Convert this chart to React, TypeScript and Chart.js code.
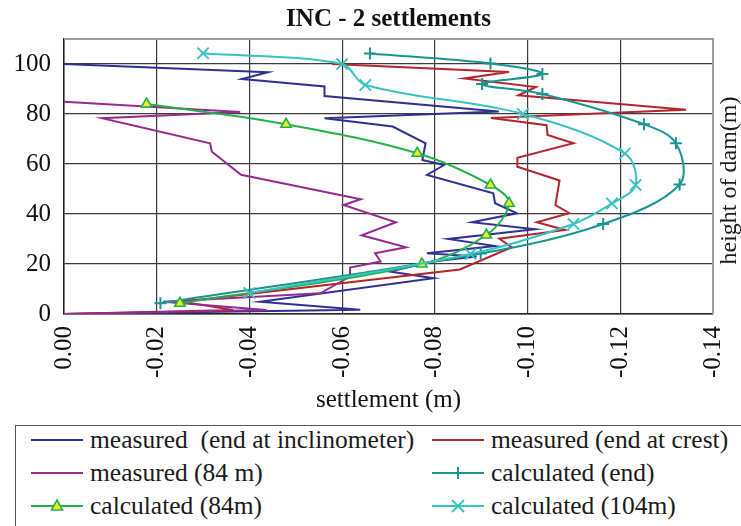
import { useEffect, useRef } from "react";
import { Chart, registerables } from "chart.js";

Chart.register(...registerables);

const SERIF = "'Liberation Serif', 'Times New Roman', serif";

// axis ticks
const xTickValues = [0, -0.02, -0.04, -0.06, -0.08, -0.1, -0.12, -0.14];
const yTickValues = [0, 20, 40, 60, 80, 100];

// measured (end at inclinometer)
const measInclSettlement = [0, -0.044, -0.0384, -0.0562, -0.0562, -0.0938, -0.0562, -0.0709, -0.078, -0.0773, -0.082, -0.0783, -0.0926, -0.093, -0.0977, -0.088, -0.1016, -0.0829, -0.093, -0.0783, -0.089, -0.0795, -0.0703, -0.0797, -0.0423, -0.0639, 0];
const measInclHeight = [100, 96.7, 94, 91, 87.2, 81, 78.3, 75, 68.3, 61.6, 59.6, 55.6, 48.3, 44.3, 40.3, 36.7, 33.9, 30, 27.2, 24.3, 23, 21, 17, 14.3, 4.9, 1.7, 0];

// measured (end at crest)
const measCrestSettlement = [-0.0578, -0.096, -0.0863, -0.1018, -0.098, -0.1342, -0.0921, -0.1041, -0.1043, -0.1099, -0.0978, -0.0978, -0.1069, -0.106, -0.109, -0.102, -0.1081, -0.0939, -0.0966, -0.0854, -0.0255, -0.0365, 0];
const measCrestHeight = [100, 96.8, 94.2, 90.8, 87.5, 81.7, 78.4, 75.5, 71.6, 68.3, 62.5, 58.9, 53.4, 43.6, 40.3, 36.7, 33.6, 30.1, 26.7, 17.8, 4.9, 1.6, 0];

// measured (84 m)
const meas84Settlement = [0, -0.038, -0.0082, -0.0315, -0.0319, -0.0382, -0.064, -0.0603, -0.0716, -0.0642, -0.0738, -0.0671, -0.0683, -0.0617, -0.0617, -0.0553, -0.0214, -0.0437, 0];
const meas84Height = [84.9, 80.8, 78.3, 68.3, 64.9, 55.7, 45.9, 43.6, 36.7, 31.5, 26.7, 24.3, 21, 18.6, 15, 8.3, 4.9, 1.6, 0];

// calculated (end)
const calcEndSettlement = [-0.066, -0.092, -0.1032, -0.0902, -0.1032, -0.1251, -0.132, -0.1328, -0.1163, -0.0899, -0.0208];
const calcEndHeight = [104.2, 100.2, 96, 92, 88, 75.9, 68.3, 51.8, 36, 24.2, 4.3];

// calculated (84m)
const calc84Settlement = [-0.0178, -0.0479, -0.0762, -0.092, -0.096, -0.0911, -0.0772, -0.025];
const calc84Height = [84, 75.9, 64.3, 51.6, 44.3, 31.6, 20, 4.3];

// calculated (104m)
const calc104Settlement = [-0.03, -0.06, -0.065, -0.099, -0.121, -0.1233, -0.1182, -0.1099, -0.0877, -0.04];
const calc104Height = [104.3, 100, 91.6, 80, 64.2, 51.6, 44.2, 36, 24, 8.4];

const COLORS = {
  blue: "#2e3192",
  red: "#b3262e",
  purple: "#942b90",
  teal: "#199490",
  green: "#24b04a",
  cyan: "#38c3c0",
  yellow: "#f0ec28",
};

const CHART_TITLE = "INC - 2 settlements";
const RIGHT_AXIS_TITLE = "height of dam(m)";

const pts = (xs: number[], ys: number[]) => xs.map((x, i) => ({ x, y: ys[i] }));

type LegendEntry = { label: string; color: string; marker: "" | "plus" | "tri" | "x"; col: number; row: number };

const legendEntries: LegendEntry[] = [
  { label: "measured  (end at inclinometer)", color: COLORS.blue, marker: "", col: 0, row: 0 },
  { label: "measured (end at crest)", color: COLORS.red, marker: "", col: 1, row: 0 },
  { label: "measured (84 m)", color: COLORS.purple, marker: "", col: 0, row: 1 },
  { label: "calculated (end)", color: COLORS.teal, marker: "plus", col: 1, row: 1 },
  { label: "calculated (84m)", color: COLORS.green, marker: "tri", col: 0, row: 2 },
  { label: "calculated (104m)", color: COLORS.cyan, marker: "x", col: 1, row: 2 },
];

// plot frame, chart title centred over the plot, and the right-hand axis title
const framePlugin = {
  id: "frame",
  afterDraw(chart: any) {
    const { ctx, chartArea } = chart;
    const { left, right, top, bottom } = chartArea;
    ctx.save();
    ctx.strokeStyle = "#9c9c9c";
    ctx.lineWidth = 2;
    ctx.beginPath();
    ctx.moveTo(left, top);
    ctx.lineTo(right, top);
    ctx.lineTo(right, bottom);
    ctx.stroke();

    ctx.fillStyle = "#111";
    ctx.textAlign = "center";
    ctx.textBaseline = "middle";
    ctx.font = `bold 25px ${SERIF}`;
    ctx.fillText(CHART_TITLE, (left + right) / 2, 20);

    ctx.fillStyle = "#1a1a1a";
    ctx.font = `24px ${SERIF}`;
    ctx.translate(730, (top + bottom) / 2 + 4);
    ctx.rotate(-Math.PI / 2);
    ctx.fillText(RIGHT_AXIS_TITLE, 0, 0);
    ctx.restore();
  },
};

function Marker({ kind, color }: { kind: LegendEntry["marker"]; color: string }) {
  return (
    <svg width={52} height={20} style={{ display: "block", flex: "none" }}>
      <line x1={0} y1={10} x2={52} y2={10} stroke={color} strokeWidth={2} />
      {kind === "plus" && (
        <g stroke={color} strokeWidth={2}>
          <line x1={26} y1={4} x2={26} y2={16} />
          <line x1={20} y1={10} x2={32} y2={10} />
        </g>
      )}
      {kind === "x" && (
        <g stroke={color} strokeWidth={2}>
          <line x1={20} y1={4} x2={32} y2={16} />
          <line x1={32} y1={4} x2={20} y2={16} />
        </g>
      )}
      {kind === "tri" && (
        <polygon points="26,4 31.5,14 20.5,14" fill={COLORS.yellow} stroke={color} strokeWidth={1.6} />
      )}
    </svg>
  );
}

export default function App() {
  const canvasRef = useRef<HTMLCanvasElement | null>(null);

  useEffect(() => {
    const canvas = canvasRef.current;
    if (!canvas) return;

    const calcLine = (tension: number) => ({ tension, borderWidth: 2, fill: false });

    const chart = new Chart(canvas, {
      type: "line",
      data: {
        datasets: [
          {
            label: "measured  (end at inclinometer)",
            data: pts(measInclSettlement, measInclHeight),
            borderColor: COLORS.blue,
            borderWidth: 2,
            pointRadius: 0,
            tension: 0,
            order: 5,
          },
          {
            label: "measured (end at crest)",
            data: pts(measCrestSettlement, measCrestHeight),
            borderColor: COLORS.red,
            borderWidth: 2,
            pointRadius: 0,
            tension: 0,
            order: 4,
          },
          {
            label: "measured (84 m)",
            data: pts(meas84Settlement, meas84Height),
            borderColor: COLORS.purple,
            borderWidth: 2,
            pointRadius: 0,
            tension: 0,
            order: 3,
          },
          {
            label: "calculated (end)",
            data: pts(calcEndSettlement, calcEndHeight),
            borderColor: COLORS.teal,
            ...calcLine(0.35),
            pointStyle: "cross",
            pointRadius: 6,
            pointBorderWidth: 2,
            pointBorderColor: COLORS.teal,
            order: 2,
          },
          {
            label: "calculated (84m)",
            data: pts(calc84Settlement, calc84Height),
            borderColor: COLORS.green,
            ...calcLine(0.35),
            pointStyle: "triangle",
            pointRadius: 6,
            pointBorderWidth: 1.6,
            pointBorderColor: COLORS.green,
            pointBackgroundColor: COLORS.yellow,
            order: 1,
          },
          {
            label: "calculated (104m)",
            data: pts(calc104Settlement, calc104Height),
            borderColor: COLORS.cyan,
            ...calcLine(0.35),
            pointStyle: "crossRot",
            pointRadius: 8,
            pointBorderWidth: 2,
            pointBorderColor: COLORS.cyan,
            order: 0,
          },
        ],
      } as any,
      options: {
        animation: false,
        responsive: false,
        maintainAspectRatio: false,
        layout: { padding: { left: 0, right: 28, top: 39, bottom: 0 } },
        plugins: {
          legend: { display: false },
          tooltip: { enabled: false },
          title: { display: false },
        },
        scales: {
          x: {
            type: "linear",
            min: -0.14,
            max: 0,
            reverse: true,
            afterBuildTicks: (s: any) => {
              s.ticks = xTickValues.map((v) => ({ value: v }));
            },
            afterFit: (s: any) => {
              s.height = 106;
              s.paddingLeft = 0;
              s.paddingRight = 0;
            },
            ticks: {
              minRotation: 90,
              maxRotation: 90,
              autoSkip: false,
              padding: 12,
              color: "#111",
              font: { family: SERIF, size: 25 },
              callback: (v: any) => Number(v).toFixed(2),
            },
            grid: { color: "#3c3c3c", lineWidth: 1.2, drawTicks: false },
            border: { display: true, color: "#222", width: 1.5 },
            title: {
              display: true,
              text: "settlement (m)",
              color: "#111",
              font: { family: SERIF, size: 25, lineHeight: 1.2 },
              padding: { top: 0, bottom: 5 },
            },
          },
          y: {
            type: "linear",
            min: 0,
            max: 110,
            afterBuildTicks: (s: any) => {
              s.ticks = yTickValues.map((v) => ({ value: v }));
            },
            afterFit: (s: any) => {
              s.width = 64;
              s.paddingTop = 0;
              s.paddingBottom = 0;
            },
            ticks: {
              padding: 13,
              color: "#111",
              font: { family: SERIF, size: 25 },
            },
            grid: { color: "#3c3c3c", lineWidth: 1.2, drawTicks: false },
            border: { display: true, color: "#222", width: 1.5 },
          },
        },
      } as any,
      plugins: [framePlugin],
    });

    return () => chart.destroy();
  }, []);

  return (
    <div
      style={{
        position: "absolute",
        left: 0,
        top: 0,
        width: 741,
        height: 526,
        overflow: "hidden",
        background: "#fff",
      }}
    >
      <canvas
        ref={canvasRef}
        width={741}
        height={420}
        style={{ position: "absolute", left: 0, top: 0, width: 741, height: 420 }}
      />
      <div
        style={{
          position: "absolute",
          left: 15,
          top: 425,
          width: 800,
          height: 140,
          border: "1.5px solid #555",
          boxSizing: "border-box",
        }}
      />
      {legendEntries.map((e) => (
        <div
          key={e.label}
          style={{
            position: "absolute",
            left: e.col === 0 ? 31 : 432,
            top: 440 + e.row * 33 - 15,
            height: 30,
            display: "flex",
            alignItems: "center",
            fontFamily: SERIF,
            fontSize: 25.5,
            lineHeight: 1,
            color: "#1a1a1a",
            whiteSpace: "pre",
          }}
        >
          <Marker kind={e.marker} color={e.color} />
          <span style={{ marginLeft: 7 }}>{e.label}</span>
        </div>
      ))}
    </div>
  );
}
